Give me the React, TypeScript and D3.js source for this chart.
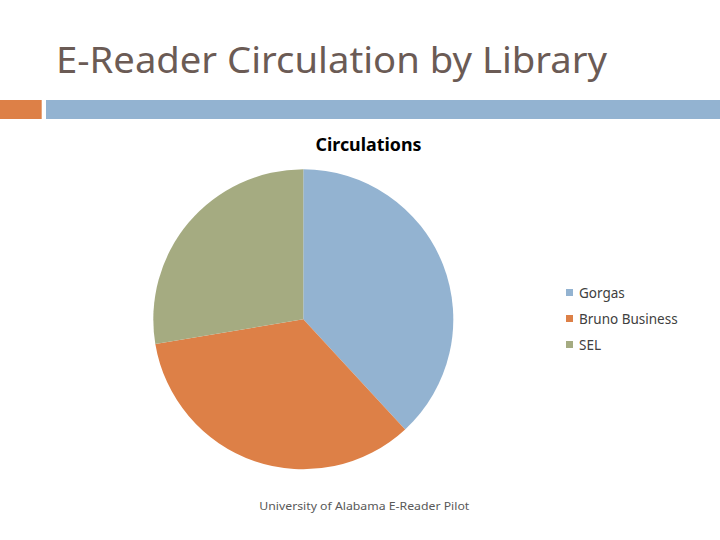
import React from "react";
import * as d3 from "d3";

const categories = ["Gorgas", "Bruno Business", "SEL"];
const circulations = [69, 62, 50];
const colors = ["#93B3D1", "#DD8047", "#A5AB81"];

const W = 720;
const H = 540;

export default function App() {
  const pie = d3.pie<number>().sort(null).value((d) => d);
  const arcs = pie(circulations);
  const arcGen = d3.arc<d3.PieArcDatum<number>>().innerRadius(0).outerRadius(150);
  const cx = 303.3;
  const cy = 319.3;
  const legendY = d3.scaleBand<string>().domain(categories).range([280, 358]);

  return (
    <svg
      width={W}
      height={H}
      viewBox={`0 0 ${W} ${H}`}
      style={{ position: "absolute", left: 0, top: 0, background: "#fff" }}
    >
      <rect x={0} y={0} width={W} height={H} fill="#fff" />
      <text
        x={56}
        y={72.5}
        fontFamily="'Noto Sans', 'DejaVu Sans', sans-serif"
        fontSize={37}
        fill="#6B5B55"
        textLength={551}
        lengthAdjust="spacingAndGlyphs"
      >
        E-Reader Circulation by Library
      </text>
      <rect x={0} y={100} width={41.7} height={19} fill="#DD8047" />
      <rect x={46} y={100} width={W - 46} height={19} fill="#93B3D1" />

      <text
        x={368.5}
        y={150.7}
        textAnchor="middle"
        fontFamily="'Noto Sans', 'DejaVu Sans', sans-serif"
        fontWeight="bold"
        fontSize={18}
        fill="#000"
        textLength={106}
        lengthAdjust="spacingAndGlyphs"
      >
        Circulations
      </text>

      <g transform={`translate(${cx},${cy})`}>
        {arcs.map((a, i) => (
          <path key={categories[i]} d={arcGen(a) || ""} fill={colors[i]} />
        ))}
      </g>

      <g>
        {categories.map((c, i) => {
          const y = (legendY(c) || 0) + legendY.bandwidth() / 2;
          return (
            <g key={c}>
              <rect x={566} y={y - 4} width={7} height={7} fill={colors[i]} />
              <text
                x={579}
                y={y + 5}
                fontFamily="'Noto Sans', 'DejaVu Sans', sans-serif"
                fontSize={13.5}
                fill="#404040"
              >
                {c}
              </text>
            </g>
          );
        })}
      </g>

      <text
        x={364.3}
        y={510}
        textAnchor="middle"
        fontFamily="'Noto Sans', 'DejaVu Sans', sans-serif"
        fontSize={10.5}
        fill="#595959"
        textLength={210}
        lengthAdjust="spacingAndGlyphs"
      >
        University of Alabama E-Reader Pilot
      </text>
    </svg>
  );
}
